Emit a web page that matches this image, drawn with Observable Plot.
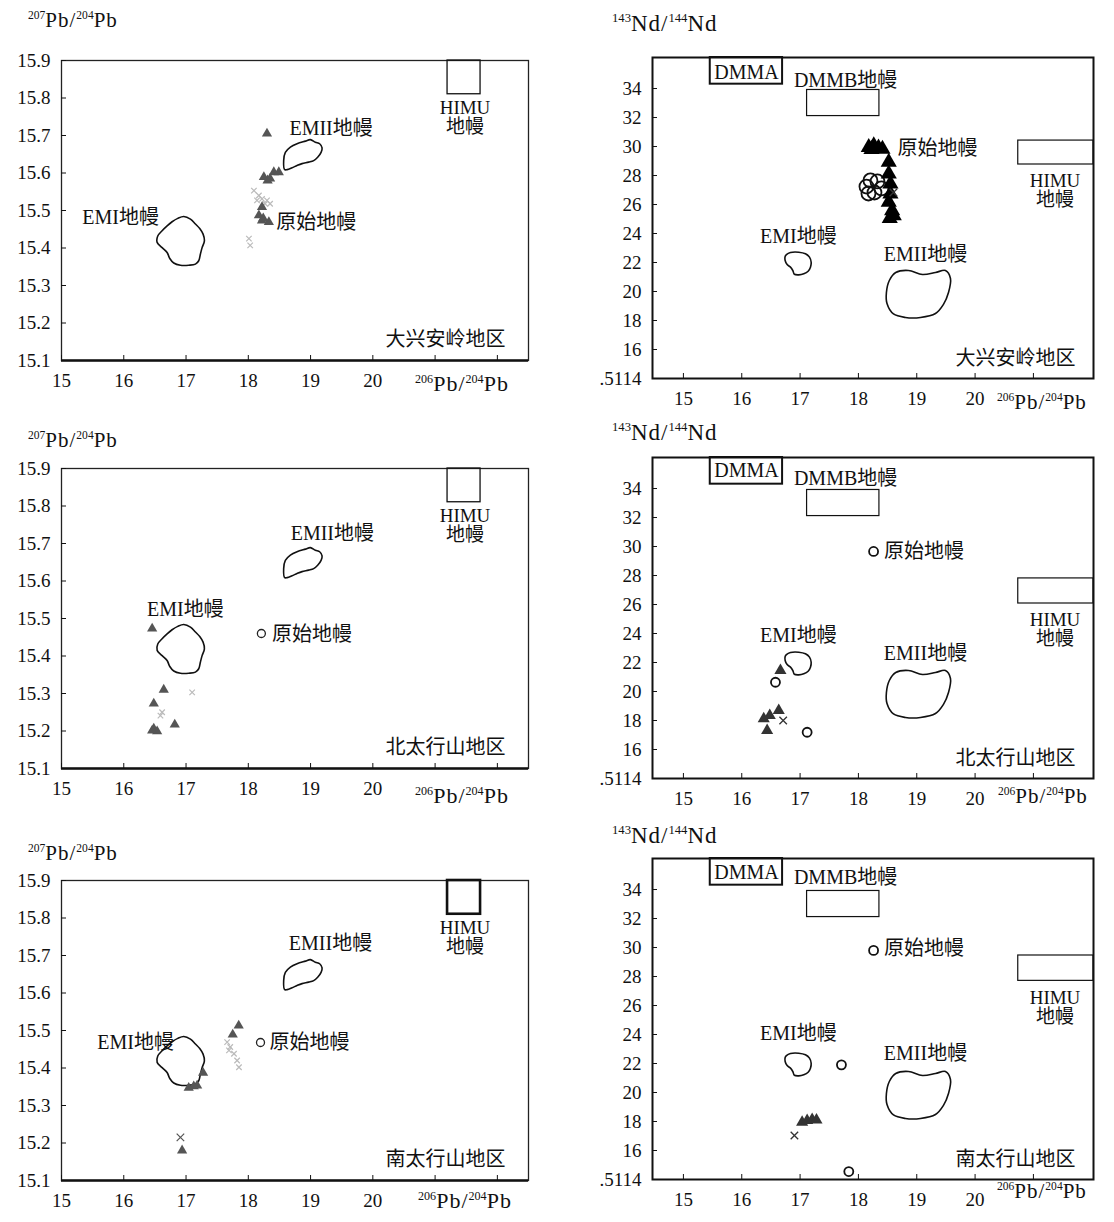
<!DOCTYPE html>
<html><head><meta charset="utf-8">
<script src="https://cdn.jsdelivr.net/npm/d3@7"></script>
<script src="https://cdn.jsdelivr.net/npm/@observablehq/plot@0.6"></script>
<style>
body{margin:0;background:#fff;}
#wrap{position:relative;width:1114px;height:1222px;font-family:"Liberation Serif","Noto Sans CJK SC",serif;color:#111;overflow:hidden;}
.p{position:absolute;}
.lab{position:absolute;white-space:nowrap;line-height:1;letter-spacing:1px;}
.lab sup{font-size:0.55em;vertical-align:0.7em;line-height:0;letter-spacing:0;}
</style></head><body><div id="wrap"></div><script>
// ---------- data ----------
const regionNames = ["大兴安岭地区", "北太行山地区", "南太行山地区"];

const pbXTicks = [15, 16, 17, 18, 19, 20, 21, 22];
const pbXLabels = ["15", "16", "17", "18", "19", "20", "", ""];
const pbYTicks = [15.1, 15.2, 15.3, 15.4, 15.5, 15.6, 15.7, 15.8, 15.9];
const pbYLabels = ["15.1", "15.2", "15.3", "15.4", "15.5", "15.6", "15.7", "15.8", "15.9"];
const ndXTicks = [15, 16, 17, 18, 19, 20, 21];
const ndXLabels = ["15", "16", "17", "18", "19", "20", ""];
const ndYTicks = [14, 16, 18, 20, 22, 24, 26, 28, 30, 32, 34];
const ndYLabels = [".5114", "16", "18", "20", "22", "24", "26", "28", "30", "32", "34"];

// mantle field outlines (x, y)
const emiPb = [[16.964,15.484],[17.071,15.477],[17.151,15.464],[17.220,15.452],[17.274,15.437],[17.295,15.419],[17.258,15.401],[17.231,15.384],[17.204,15.366],[17.151,15.357],[17.044,15.354],[16.910,15.354],[16.803,15.360],[16.739,15.372],[16.696,15.388],[16.616,15.401],[16.536,15.415],[16.546,15.432],[16.616,15.446],[16.696,15.459],[16.776,15.470],[16.867,15.479]];
const emiiPb = [[18.584,15.609],[18.568,15.633],[18.595,15.655],[18.676,15.669],[18.783,15.678],[18.917,15.685],[18.997,15.689],[19.077,15.682],[19.146,15.678],[19.185,15.667],[19.169,15.655],[19.114,15.642],[19.050,15.633],[18.969,15.629],[18.863,15.625],[18.783,15.620],[18.703,15.614],[18.623,15.609]];
const emiNd = [[16.766,22.55],[16.835,22.69],[16.977,22.71],[17.092,22.60],[17.161,22.37],[17.190,22.02],[17.178,21.68],[17.138,21.40],[17.063,21.22],[16.977,21.15],[16.903,21.19],[16.875,21.45],[16.835,21.68],[16.778,21.86],[16.744,22.14],[16.744,22.42]];
const emiiNd = [[18.48,19.93],[18.53,20.76],[18.64,21.31],[18.858,21.45],[19.098,21.17],[19.321,21.31],[19.492,21.45],[19.578,20.90],[19.544,19.93],[19.458,19.11],[19.321,18.48],[19.064,18.21],[18.806,18.21],[18.601,18.45],[18.49,19.17]];

// boxes [x1, x2, y1, y2]
const himuPbBox = [21.2, 21.73, 15.81, 15.9];
const dmmaBox = [15.46, 16.70, 34.3, 36.14];
const dmmbBox = [17.12, 18.36, 32.1, 33.9];
const himuNdBoxes = [[20.74, 22.03, 28.76, 30.41], [20.74, 22.03, 26.07, 27.8], [20.74, 22.03, 27.7, 29.45]];

// field labels [x, y, text, anchor]
const pbLabels = [
  [[19.33, 15.719, "EMII地幔", "middle"], [15.95, 15.481, "EMI地幔", "middle"], [18.45, 15.468, "原始地幔", "start"]],
  [[19.35, 15.727, "EMII地幔", "middle"], [16.99, 15.524, "EMI地幔", "middle"], [18.38, 15.458, "原始地幔", "start"]],
  [[19.32, 15.732, "EMII地幔", "middle"], [16.19, 15.468, "EMI地幔", "middle"], [18.34, 15.468, "原始地幔", "start"]]
];
const pbHimuLabel = [21.48, 15.793, "HIMU\n地幔"];
const ndLabels = [
  [[16.97, 23.79, "EMI地幔", "middle"], [19.15, 22.55, "EMII地幔", "middle"], [18.67, 29.86, "原始地幔", "start"]],
  [[16.97, 23.86, "EMI地幔", "middle"], [19.15, 22.62, "EMII地幔", "middle"], [18.44, 29.66, "原始地幔", "start"]],
  [[16.97, 24.07, "EMI地幔", "middle"], [19.15, 22.69, "EMII地幔", "middle"], [18.44, 29.93, "原始地幔", "start"]]
];
const ndHimuLabels = [[21.37, 28.14, "HIMU\n地幔"], [21.37, 25.45, "HIMU\n地幔"], [21.37, 27.04, "HIMU\n地幔"]];
const dmmaLabels = [[16.08, 35.1], [16.08, 35.24], [16.08, 35.2]];
const dmmbLabels = [[17.78, 34.55], [17.78, 34.69], [17.78, 34.83]];

// primitive mantle points
const pbPrim = [[], [[18.21, 15.46]], [[18.196, 15.468]]];
const ndPrim = [[], [[18.26, 29.66]], [[18.26, 29.8]]];

// samples: Pb-Pb
const pbTri = [
  [[18.30,15.705],[18.25,15.589],[18.31,15.580],[18.41,15.602],[18.49,15.602],[18.35,15.585],[18.22,15.509],[18.17,15.487],[18.22,15.473],[18.33,15.469],[18.24,15.479]],
  [[16.456,15.473],[16.642,15.310],[16.482,15.273],[16.482,15.206],[16.536,15.199],[16.456,15.201],[16.819,15.217]],
  [[17.846,15.513],[17.750,15.489],[17.274,15.387],[17.124,15.351],[17.043,15.347],[17.178,15.353],[16.937,15.180]]
];
const pbGrey = [
  [[18.09,15.553],[18.17,15.540],[18.22,15.531],[18.30,15.527],[18.27,15.518],[18.35,15.518],[18.14,15.527],[18.01,15.425],[18.03,15.407]],
  [[17.098,15.303],[16.589,15.241],[16.616,15.250]],
  [[17.66,15.469],[17.71,15.456],[17.77,15.438],[17.82,15.420],[17.85,15.402],[17.69,15.447]]
];
const pbCross = [[], [], [[16.91, 15.215]]];

// samples: Nd-Pb
const ndTri = [
  [[18.177,29.95],[18.263,30.07],[18.344,29.91],[18.412,29.83],[18.224,29.80],[18.520,28.92],[18.520,28.12],[18.549,27.43],[18.549,26.74],[18.520,26.16],[18.578,25.59],[18.606,25.24],[18.537,25.04]],
  [[16.663,21.45],[16.634,18.69],[16.377,18.12],[16.480,18.35],[16.435,17.31]],
  [[17.035,17.95],[17.121,18.07],[17.207,18.14],[17.281,18.11]]
];
const ndCircle = [
  [[18.138,27.24],[18.206,27.66],[18.326,27.59],[18.275,26.83],[18.395,27.11],[18.172,26.76]],
  [[16.578,20.64],[17.121,17.19]],
  [[17.709,21.91],[17.835,14.55]]
];
const ndCross = [[[18.60,26.83]], [[16.710,18.00]], [[16.903,17.04]]];

// ---------- layout ----------
const FONT = "Liberation Serif, Noto Sans CJK SC, serif";
const wrap = document.getElementById("wrap");
function place(node, left, top) {
  const d = document.createElement("div");
  d.className = "p"; d.style.left = left + "px"; d.style.top = top + "px";
  d.appendChild(node); wrap.appendChild(d);
}
function label(html, left, top, size) {
  const s = document.createElement("div");
  s.className = "lab"; s.style.left = left + "px"; s.style.top = top + "px";
  s.style.fontSize = size + "px"; s.innerHTML = html; wrap.appendChild(s);
}
const X = d => d[0], Y = d => d[1];
const textMarks = (arr, size) => arr.map(a => Plot.text([a], {x: X, y: Y, text: d => d[2], textAnchor: a[3] || "middle", fontSize: size, fill: "#111"}));
const inwardTicks = (xt, yt) => [
  Plot.axisX(xt, {tickSize: 5, dy: -5, tickFormat: () => "", stroke: "#111"}),
  Plot.axisY(yt, {tickSize: 5, dx: 5, tickFormat: () => "", stroke: "#111"})
];

function pbPanel(k) {
  return Plot.plot({
    width: 560, height: 350, marginLeft: 61, marginRight: 32, marginTop: 10, marginBottom: 40,
    x: {domain: [15, 22.5]}, y: {domain: [15.1, 15.9]},
    style: {fontFamily: FONT, background: "transparent", color: "#111", overflow: "visible"},
    marks: [
      Plot.frame({stroke: "#222", strokeWidth: 1.3}),
      Plot.ruleY([15.1], {stroke: "#111", strokeWidth: 2.4}),
      ...inwardTicks(pbXTicks, pbYTicks),
      Plot.axisX(pbXTicks, {tickSize: 0, tickPadding: 13, tickFormat: d => pbXLabels[pbXTicks.indexOf(d)], fontSize: 19}),
      Plot.axisY(pbYTicks, {tickSize: 0, tickPadding: 11, tickFormat: d => pbYLabels[pbYTicks.indexOf(d)], fontSize: 19}),
      Plot.rect([himuPbBox], {x1: d => d[0], x2: d => d[1], y1: d => d[2], y2: d => d[3], fill: "none", stroke: "#111", strokeWidth: k === 2 ? 2.6 : 1.3}),
      Plot.line(emiPb, {x: X, y: Y, curve: "catmull-rom-closed", stroke: "#111", strokeWidth: 1.6}),
      Plot.line(emiiPb, {x: X, y: Y, curve: "catmull-rom-closed", stroke: "#111", strokeWidth: 1.6}),
      ...textMarks(pbLabels[k], 20),
      Plot.text([pbHimuLabel], {x: X, y: Y, text: d => d[2], lineAnchor: "top", fontSize: 19, fill: "#111"}),
      Plot.text([regionNames[k]], {frameAnchor: "bottom-right", dx: -23, dy: -15, fontSize: 20, fill: "#111"}),
      Plot.dot(pbGrey[k], {x: X, y: Y, symbol: "times", r: 2.6, stroke: "#bbb", strokeWidth: 1.2}),
      Plot.dot(pbCross[k], {x: X, y: Y, symbol: "times", r: 3.5, stroke: "#555", strokeWidth: 1.2}),
      Plot.dot(pbTri[k], {x: X, y: Y, symbol: "triangle", r: 3.8, fill: "#555"}),
      Plot.dot(pbPrim[k], {x: X, y: Y, symbol: "circle", r: 4, fill: "white", stroke: "#222", strokeWidth: 1.3})
    ]
  });
}

function ndPanel(k) {
  return Plot.plot({
    width: 554, height: 371, marginLeft: 92, marginRight: 21, marginTop: 10, marginBottom: 40,
    x: {domain: [14.47, 22.03]}, y: {domain: [14, 36.14]},
    style: {fontFamily: FONT, background: "transparent", color: "#111", overflow: "visible"},
    marks: [
      Plot.frame({stroke: "#111", strokeWidth: 2}),
      ...inwardTicks(ndXTicks, ndYTicks),
      Plot.axisX(ndXTicks, {tickSize: 0, tickPadding: 13, tickFormat: d => ndXLabels[ndXTicks.indexOf(d)], fontSize: 19}),
      Plot.axisY(ndYTicks, {tickSize: 0, tickPadding: 11, tickFormat: d => ndYLabels[ndYTicks.indexOf(d)], fontSize: 19}),
      Plot.rect([dmmaBox], {x1: d => d[0], x2: d => d[1], y1: d => d[2], y2: d => d[3], fill: "none", stroke: "#111", strokeWidth: 2}),
      Plot.rect([dmmbBox], {x1: d => d[0], x2: d => d[1], y1: d => d[2], y2: d => d[3], fill: "none", stroke: "#111", strokeWidth: 1.2}),
      Plot.rect([himuNdBoxes[k]], {x1: d => d[0], x2: d => d[1], y1: d => d[2], y2: d => d[3], fill: "none", stroke: "#111", strokeWidth: 1.2}),
      Plot.line(emiNd, {x: X, y: Y, curve: "catmull-rom-closed", stroke: "#111", strokeWidth: 1.6}),
      Plot.line(emiiNd, {x: X, y: Y, curve: "catmull-rom-closed", stroke: "#111", strokeWidth: 1.6}),
      ...textMarks(ndLabels[k], 20),
      Plot.text([dmmaLabels[k]], {x: X, y: Y, text: ["DMMA"], fontSize: 20, fill: "#111"}),
      Plot.text([dmmbLabels[k]], {x: X, y: Y, text: ["DMMB地幔"], fontSize: 20, fill: "#111"}),
      Plot.text([ndHimuLabels[k]], {x: X, y: Y, text: d => d[2], lineAnchor: "top", fontSize: 19, fill: "#111"}),
      Plot.text([regionNames[k]], {frameAnchor: "bottom-right", dx: -18, dy: -14, fontSize: 20, fill: "#111"}),
      Plot.dot(ndCircle[k], {x: X, y: Y, symbol: "circle", r: k === 0 ? 7 : 4.5, fill: k === 0 ? "none" : "white", stroke: "#111", strokeWidth: 1.8}),
      Plot.dot(ndTri[k], {x: X, y: Y, symbol: "triangle", r: k === 0 ? 6 : 4.5, fill: k === 0 ? "#000" : "#333"}),
      Plot.dot(ndCross[k], {x: X, y: Y, symbol: "times", r: 3.5, stroke: "#333", strokeWidth: 1.3}),
      Plot.dot(ndPrim[k], {x: X, y: Y, symbol: "circle", r: 4.5, fill: "white", stroke: "#111", strokeWidth: 1.8})
    ]
  });
}

const pbTops = [50, 458, 870];
const ndTops = [47, 447, 848];
for (let k = 0; k < 3; k++) {
  place(pbPanel(k), 0, pbTops[k]);
  place(ndPanel(k), 560, ndTops[k]);
}
const pbTitle = "<sup>207</sup>Pb/<sup>204</sup>Pb";
const ndTitle = "<sup>143</sup>Nd/<sup>144</sup>Nd";
const xTitle = "<sup>206</sup>Pb/<sup>204</sup>Pb";
[[28, 10], [28, 430], [28, 843]].forEach(([l, t]) => label(pbTitle, l, t, 21));
[[612, 12], [612, 421], [612, 824]].forEach(([l, t]) => label(ndTitle, l, t, 23));
[[415, 373], [415, 785], [418, 1190]].forEach(([l, t]) => label(xTitle, l, t, 22));
[[997, 392], [998, 786], [997, 1181]].forEach(([l, t]) => label(xTitle, l, t, 21));
</script></body></html>
